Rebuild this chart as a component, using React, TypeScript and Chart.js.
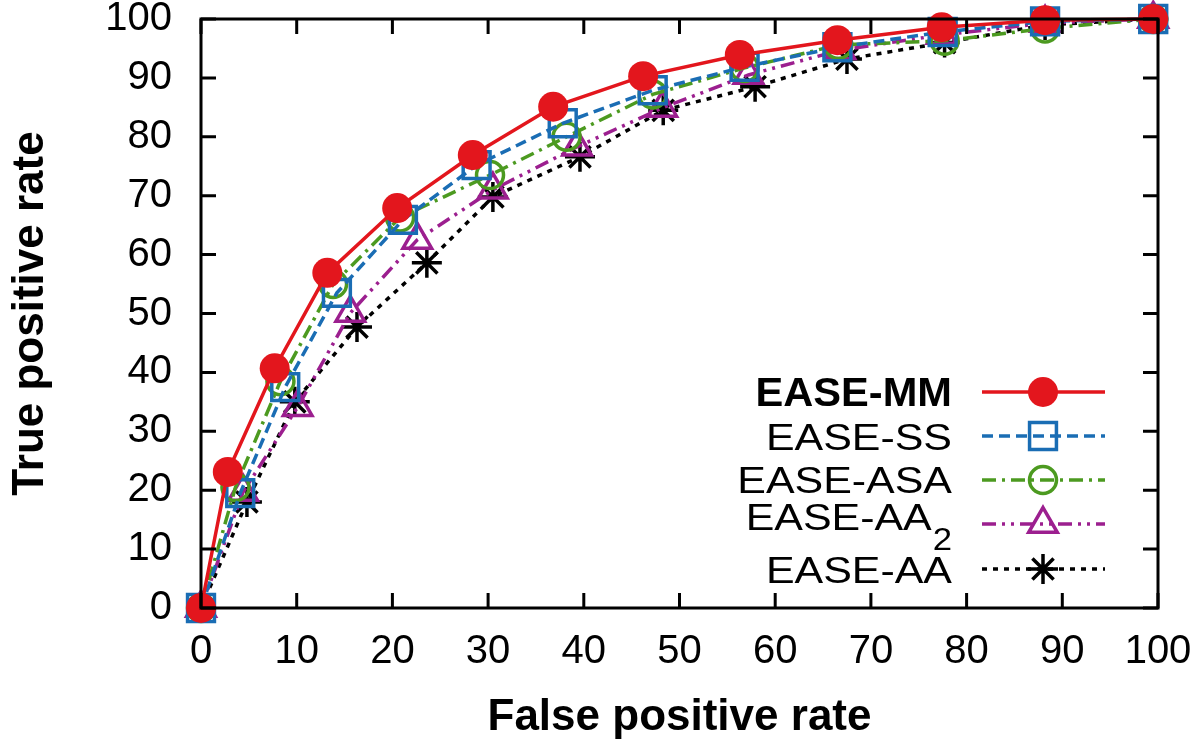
import React, { useEffect, useRef } from 'react';
import { Chart, registerables } from 'chart.js';

Chart.register(...registerables);

const FONT = '"Liberation Sans", Arial, Helvetica, sans-serif';

const seriesLabels = ['EASE-MM', 'EASE-SS', 'EASE-ASA', 'EASE-AA', 'EASE-AA'];
const seriesSubscripts = ['', '', '', '2', ''];
const seriesColors = ['#e3161d', '#1a6db4', '#4c9a20', '#9c1f8f', '#000000'];

const mmFpr = [0, 2.8, 7.7, 13.2, 20.5, 28.4, 36.8, 46.2, 56.3, 66.5, 77.4, 88.2, 99.5];
const mmTpr = [0, 23.1, 40.7, 56.9, 67.9, 76.9, 85.1, 90.3, 93.9, 96.4, 98.6, 99.8, 100];
const ssFpr = [0, 4.1, 8.8, 14.2, 21.1, 28.8, 37.8, 47.2, 56.8, 66.5, 77.5, 88.2, 99.5];
const ssTpr = [0, 19.5, 37.5, 53.5, 65.9, 75.2, 82.3, 87.9, 91.9, 95.2, 97.8, 99.6, 100];
const asaFpr = [0, 3.6, 8.3, 13.8, 20.8, 30.2, 38.2, 47.2, 56.8, 66.6, 77.7, 88.2, 99.5];
const asaTpr = [0, 20.5, 38.5, 55.0, 66.3, 73.5, 80.0, 87.2, 91.7, 95.6, 96.3, 98.4, 100];
const aa2Fpr = [0, 4.4, 10.1, 15.6, 22.6, 30.5, 39.3, 48.2, 57.2, 66.8, 77.4, 88.2, 99.5];
const aa2Tpr = [0, 19.7, 34.1, 50.1, 62.5, 71.0, 78.3, 84.9, 90.5, 94.7, 97.3, 99.3, 100];
const aaFpr = [0, 4.8, 9.8, 16.3, 23.6, 30.5, 39.6, 48.3, 57.9, 67.5, 77.7, 88.2, 99.5];
const aaTpr = [0, 18.0, 35.0, 47.7, 58.6, 69.8, 76.6, 84.5, 88.5, 93.2, 96.0, 99.0, 100];

const xTickValues = [0, 10, 20, 30, 40, 50, 60, 70, 80, 90, 100];
const yTickValues = [0, 10, 20, 30, 40, 50, 60, 70, 80, 90, 100];

const xTitle = 'False positive rate';
const yTitle = 'True positive rate';

const toPoints = (xs: number[], ys: number[]) => xs.map((x, i) => ({ x, y: ys[i] }));

type Style = {
  dash: number[];
  pointStyle: string;
  radius: number;
  filled: boolean;
};

const styles: Style[] = [
  { dash: [], pointStyle: 'circle', radius: 15, filled: true },
  { dash: [11, 6], pointStyle: 'rect', radius: 19, filled: false },
  { dash: [14, 6, 3, 6], pointStyle: 'circle', radius: 13.5, filled: false },
  { dash: [14, 6, 3, 6, 3, 6], pointStyle: 'triangle', radius: 16.5, filled: false },
  { dash: [5, 6], pointStyle: 'star', radius: 15, filled: false },
];

const LINE_W = 3.5;

function drawMarker(ctx: CanvasRenderingContext2D, style: Style, color: string, x: number, y: number) {
  ctx.save();
  ctx.setLineDash([]);
  ctx.strokeStyle = color;
  ctx.fillStyle = color;
  ctx.lineWidth = 3.5;
  const r = style.radius;
  ctx.beginPath();
  if (style.pointStyle === 'circle') {
    ctx.arc(x, y, r, 0, Math.PI * 2);
    if (style.filled) ctx.fill();
    else ctx.stroke();
  } else if (style.pointStyle === 'rect') {
    const s = r * Math.SQRT1_2;
    ctx.rect(x - s, y - s, 2 * s, 2 * s);
    ctx.stroke();
  } else if (style.pointStyle === 'triangle') {
    let rad = 0;
    ctx.moveTo(x + Math.sin(rad) * r, y - Math.cos(rad) * r);
    rad += (2 * Math.PI) / 3;
    ctx.lineTo(x + Math.sin(rad) * r, y - Math.cos(rad) * r);
    rad += (2 * Math.PI) / 3;
    ctx.lineTo(x + Math.sin(rad) * r, y - Math.cos(rad) * r);
    ctx.closePath();
    ctx.stroke();
  } else if (style.pointStyle === 'star') {
    ctx.moveTo(x, y - r);
    ctx.lineTo(x, y + r);
    ctx.moveTo(x - r, y);
    ctx.lineTo(x + r, y);
    const d = r * Math.SQRT1_2;
    ctx.moveTo(x - d, y - d);
    ctx.lineTo(x + d, y + d);
    ctx.moveTo(x + d, y - d);
    ctx.lineTo(x - d, y + d);
    ctx.stroke();
  }
  ctx.restore();
}

function fillTextRight(
  ctx: CanvasRenderingContext2D,
  text: string,
  rightX: number,
  baseline: number,
  font: string,
  sx: number
): number {
  ctx.save();
  ctx.font = font;
  const w = ctx.measureText(text).width * sx;
  ctx.translate(rightX, baseline);
  ctx.scale(sx, 1);
  ctx.textAlign = 'right';
  ctx.textBaseline = 'alphabetic';
  ctx.fillStyle = '#000';
  ctx.fillText(text, 0, 0);
  ctx.restore();
  return w;
}

const framePlugin = {
  id: 'gnuFrame',
  afterDatasetsDraw(chart: any) {
    const { ctx, chartArea, scales } = chart;
    const { left, right, top, bottom } = chartArea;
    ctx.save();
    ctx.strokeStyle = '#000';
    ctx.lineWidth = 3;
    ctx.setLineDash([]);
    ctx.beginPath();
    const tl = 15;
    xTickValues.forEach((v) => {
      const px = scales.x.getPixelForValue(v);
      ctx.moveTo(px, bottom);
      ctx.lineTo(px, bottom - tl);
      ctx.moveTo(px, top);
      ctx.lineTo(px, top + tl);
    });
    yTickValues.forEach((v) => {
      const py = scales.y.getPixelForValue(v);
      ctx.moveTo(left, py);
      ctx.lineTo(left + tl, py);
      ctx.moveTo(right, py);
      ctx.lineTo(right - tl, py);
    });
    ctx.stroke();
    ctx.beginPath();
    ctx.rect(left, top, right - left, bottom - top);
    ctx.stroke();
    ctx.restore();
  },
};

const legendPlugin = {
  id: 'gnuLegend',
  afterDraw(chart: any) {
    const ctx: CanvasRenderingContext2D = chart.ctx;
    const textRight = 952;
    const lineStart = 982;
    const lineEnd = 1105;
    const markerX = 1043;
    const rowY = [392, 436, 480, 524, 569];
    const textBase = [406, 450, 493, 530, 583];
    const normalFont = `37px ${FONT}`;
    const boldFont = `bold 40px ${FONT}`;
    const subFont = `31px ${FONT}`;
    const sx = 1.16;
    ctx.save();
    seriesLabels.forEach((label, i) => {
      const cy = rowY[i];
      const color = seriesColors[i];
      const st = styles[i];
      ctx.strokeStyle = color;
      ctx.lineWidth = LINE_W;
      ctx.setLineDash(st.dash);
      ctx.beginPath();
      ctx.moveTo(lineStart, cy);
      ctx.lineTo(lineEnd, cy);
      ctx.stroke();
      drawMarker(ctx, st, color, markerX, cy);
      const sub = seriesSubscripts[i];
      if (i === 0) {
        fillTextRight(ctx, label, textRight, textBase[i], boldFont, 1.04);
      } else if (sub) {
        const subW = fillTextRight(ctx, sub, textRight, 550, subFont, 1.12);
        fillTextRight(ctx, label, textRight - subW - 1, textBase[i], normalFont, sx);
      } else {
        fillTextRight(ctx, label, textRight, textBase[i], normalFont, sx);
      }
    });
    ctx.restore();
  },
};

export default function App() {
  const canvasRef = useRef<HTMLCanvasElement | null>(null);

  useEffect(() => {
    if (!canvasRef.current) return;
    const seriesData = [
      toPoints(mmFpr, mmTpr),
      toPoints(ssFpr, ssTpr),
      toPoints(asaFpr, asaTpr),
      toPoints(aa2Fpr, aa2Tpr),
      toPoints(aaFpr, aaTpr),
    ];
    const datasets = seriesData.map((data, i) => ({
      label: seriesLabels[i] + seriesSubscripts[i],
      data,
      borderColor: seriesColors[i],
      backgroundColor: styles[i].filled ? seriesColors[i] : 'rgba(0,0,0,0)',
      borderWidth: LINE_W,
      borderDash: styles[i].dash,
      pointStyle: styles[i].pointStyle,
      pointRadius: styles[i].radius,
      pointBorderWidth: styles[i].filled ? 0 : 3.5,
      pointBorderColor: seriesColors[i],
      pointBackgroundColor: styles[i].filled ? seriesColors[i] : 'rgba(0,0,0,0)',
      tension: 0,
      fill: false,
      clip: false as any,
    }));

    const chart = new Chart(canvasRef.current, {
      type: 'line',
      data: { datasets },
      options: {
        responsive: false,
        animation: false,
        events: [],
        layout: { padding: { top: 19, right: 42, left: 0, bottom: 0 }, autoPadding: false },
        plugins: {
          legend: { display: false },
          tooltip: { enabled: false },
        },
        scales: {
          x: {
            type: 'linear',
            min: 0,
            max: 100,
            afterBuildTicks: (scale: any) => {
              scale.ticks = xTickValues.map((v) => ({ value: v }));
            },
            afterFit: (scale: any) => {
              scale.height = 136;
              scale.paddingLeft = 0;
              scale.paddingRight = 0;
              scale.paddingTop = 0;
              scale.paddingBottom = 0;
            },
            grid: { display: false, drawTicks: false },
            border: { display: false },
            ticks: {
              autoSkip: false,
              maxRotation: 0,
              padding: 20,
              color: '#000',
              font: { family: FONT, size: 40 },
            },
            title: {
              display: true,
              text: xTitle,
              color: '#000',
              font: { family: FONT, size: 44, weight: 'bold' },
              padding: { top: 0, bottom: 0 },
            },
          },
          y: {
            type: 'linear',
            min: 0,
            max: 100,
            afterBuildTicks: (scale: any) => {
              scale.ticks = yTickValues.map((v) => ({ value: v }));
            },
            afterFit: (scale: any) => {
              scale.width = 201;
              scale.paddingLeft = 0;
              scale.paddingRight = 0;
              scale.paddingTop = 0;
              scale.paddingBottom = 0;
            },
            grid: { display: false, drawTicks: false },
            border: { display: false },
            ticks: {
              autoSkip: false,
              padding: 29,
              color: '#000',
              font: { family: FONT, size: 40 },
            },
            title: {
              display: true,
              text: yTitle,
              color: '#000',
              font: { family: FONT, size: 44, weight: 'bold' },
              padding: { top: 4, bottom: 0 },
            },
          },
        },
      } as any,
      plugins: [framePlugin, legendPlugin],
    });
    return () => chart.destroy();
  }, []);

  return (
    <div style={{ position: 'fixed', left: 0, top: 0, width: 1200, height: 744, background: '#fff' }}>
      <canvas ref={canvasRef} width={1200} height={744} />
    </div>
  );
}
